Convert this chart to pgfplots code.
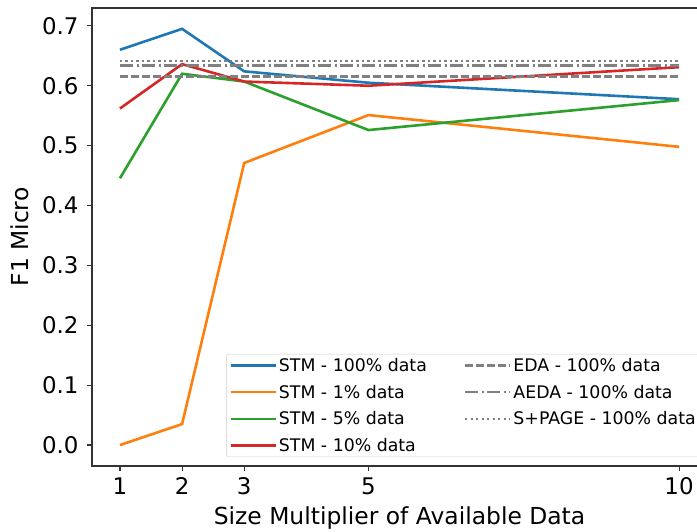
\documentclass[border=0pt]{standalone}
\usepackage{pgfplots}
\pgfplotsset{compat=1.18}
\usepackage{fontspec}
\setmainfont{DejaVu Sans}
\usetikzlibrary{calc}
\definecolor{tabblue}{HTML}{1F77B4}
\definecolor{taborange}{HTML}{FF7F0E}
\definecolor{tabgreen}{HTML}{2CA02C}
\definecolor{tabred}{HTML}{D62728}
\definecolor{mplgray}{HTML}{808080}
\begin{document}
\begin{tikzpicture}
\begin{axis}[
  scale only axis, width=615bp, height=458bp,
  xmin=0.55, xmax=10.45, ymin=-0.035, ymax=0.7298,
  xtick={1,2,3,5,10},
  ytick={0,0.1,0.2,0.3,0.4,0.5,0.6,0.7},
  yticklabel style={xshift=-5bp, /pgf/number format/.cd, fixed, fixed zerofill, precision=1},
  xticklabel style={yshift=-3bp},
  /pgf/number format/assume math mode=true,
  tick label style={font=\fontsize{23}{27}\selectfont},
  label style={font=\fontsize{23.5}{28}\selectfont},
  xlabel={Size Multiplier of Available Data},
  ylabel={F1 Micro},
  ylabel shift=6bp,
  xlabel shift=5bp,
  tick align=outside, tick pos=left,
  major tick length=4.9bp,
  axis line style={black!80, line width=1.1bp},
  every tick/.style={black!80, line width=1.1bp},
  legend image code/.code={\draw[#1] (0bp,0bp) -- (37bp,0bp); \path (0bp,0bp) -- (45bp,0bp);},
  legend style={at={(rel axis cs:0.99,0.0197)}, anchor=south east,
    draw=black!20, rounded corners=2bp, fill=white, fill opacity=0.8, text opacity=1,
    font=\fontsize{17.4}{20}\selectfont, row sep=8bp,
    /tikz/every even column/.append style={column sep=35bp}},
  legend cell align=left,
  legend columns=2,
]
\addplot[tabblue, line width=2.6bp, forget plot] coordinates {(1,0.660)(2,0.695)(3,0.624)(5,0.605)(10,0.5775)};
\addplot[taborange, line width=2.6bp, forget plot] coordinates {(1,0.000)(2,0.035)(3,0.471)(5,0.551)(10,0.498)};
\addplot[tabgreen, line width=2.6bp, forget plot] coordinates {(1,0.4455)(2,0.620)(3,0.607)(5,0.526)(10,0.576)};
\addplot[tabred, line width=2.6bp, forget plot] coordinates {(1,0.562)(2,0.636)(3,0.607)(5,0.600)(10,0.631)};
\addplot[mplgray, line width=2.6bp, dash pattern=on 7.7bp off 3.3bp, forget plot] coordinates {(1,0.615)(10,0.615)};
\addplot[mplgray, line width=2.6bp, dash pattern=on 13.3bp off 3.3bp on 2.1bp off 3.3bp, forget plot] coordinates {(1,0.634)(10,0.634)};
\addplot[mplgray, line width=2.6bp, dash pattern=on 2.1bp off 3.4bp, forget plot] coordinates {(1,0.641)(10,0.641)};
\addlegendimage{tabblue, line width=2.6bp}
\addlegendentry{STM - 100\% data}
\addlegendimage{mplgray, line width=2.6bp, dash pattern=on 7.7bp off 3.3bp}
\addlegendentry{EDA - 100\% data}
\addlegendimage{taborange, line width=2.6bp}
\addlegendentry{STM - 1\% data}
\addlegendimage{mplgray, line width=2.6bp, dash pattern=on 13.3bp off 3.3bp on 2.1bp off 3.3bp}
\addlegendentry{AEDA - 100\% data}
\addlegendimage{tabgreen, line width=2.6bp}
\addlegendentry{STM - 5\% data}
\addlegendimage{mplgray, line width=2.6bp, dash pattern=on 2.1bp off 3.4bp}
\addlegendentry{S+PAGE - 100\% data}
\addlegendimage{tabred, line width=2.6bp}
\addlegendentry{STM - 10\% data}
\addlegendimage{empty legend}
\addlegendentry{}
\end{axis}
\pgfresetboundingbox
\path ($(current axis.south west)+(-92bp,-65bp)$) rectangle ($(current axis.north east)+(-10bp,8bp)$);
\end{tikzpicture}
\end{document}
